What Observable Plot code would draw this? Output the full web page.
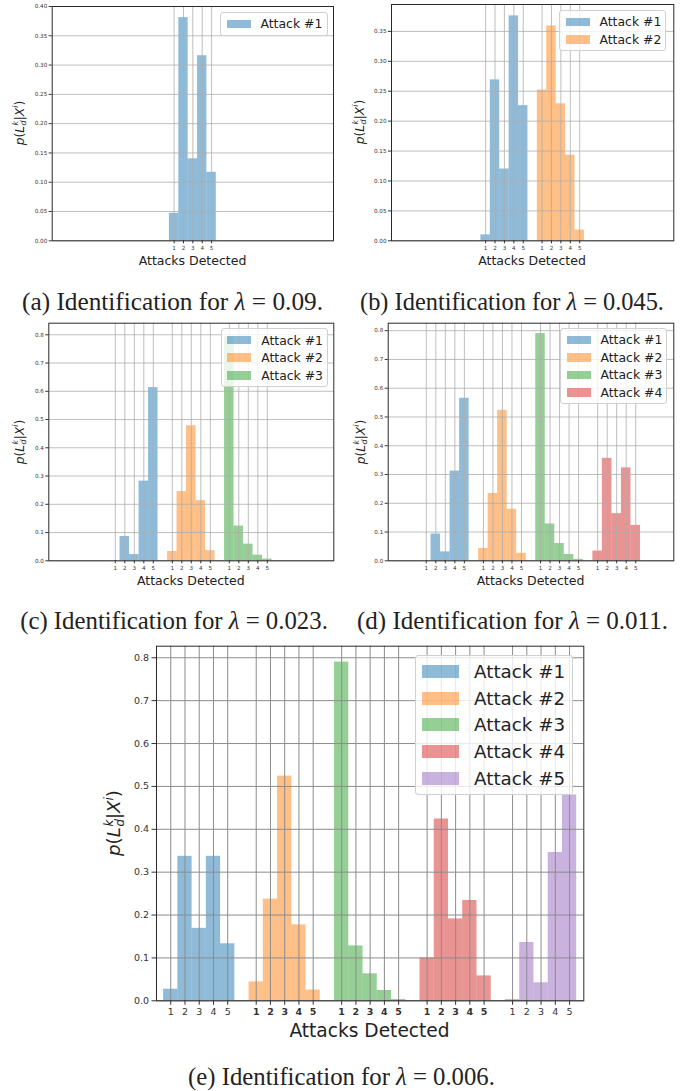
<!DOCTYPE html>
<html>
<head>
<meta charset="utf-8">
<script src="https://cdn.jsdelivr.net/npm/d3@7"></script>
<script src="https://cdn.jsdelivr.net/npm/@observablehq/plot@0.6"></script>
<style>
  body { margin: 0; background: #fff; }
  #fig { position: relative; width: 688px; height: 1091px; overflow: hidden; font-family: "DejaVu Sans", sans-serif; color: #222; }
  .panel { position: absolute; }
  .caption { position: absolute; font-family: "Liberation Serif", serif; white-space: nowrap; line-height: 1; transform: translate(-50%, -50%); color: #222; }
  .xlab { position: absolute; white-space: nowrap; line-height: 1; transform: translate(-50%, -50%); color: #222; }
  .ylab { position: absolute; white-space: nowrap; line-height: 1; transform: translate(-50%, -50%) rotate(-90deg); color: #222; }
  .ss { display: inline-flex; flex-direction: column; font-size: 0.65em; line-height: 0.95; vertical-align: middle; font-style: italic; margin-left: 0.05em; }
  .legend { position: absolute; background: rgba(255,255,255,0.8); border: 1px solid #d0d0d0; border-radius: 3px; box-sizing: border-box; }
  .lrow { display: flex; align-items: center; white-space: nowrap; }
</style>
</head>
<body>
<div id="fig"></div>
<script>
// ---------- data ----------
const tickLabels = [1, 2, 3, 4, 5];
const attackNames = ["Attack #1", "Attack #2", "Attack #3", "Attack #4", "Attack #5"];
const colors = ["#1f77b4", "#ff7f0e", "#2ca02c", "#d62728", "#9467bd"];

// (a) lambda = 0.09
const a_attack1 = [0.047, 0.381, 0.140, 0.316, 0.117];
// (b) lambda = 0.045
const b_attack1 = [0.010, 0.269, 0.120, 0.376, 0.226];
const b_attack2 = [0.252, 0.359, 0.229, 0.143, 0.018];
// (c) lambda = 0.023
const c_attack1 = [0.000, 0.086, 0.022, 0.282, 0.613];
const c_attack2 = [0.033, 0.245, 0.478, 0.213, 0.036];
const c_attack3 = [0.792, 0.123, 0.059, 0.020, 0.006];
// (d) lambda = 0.011
const d_attack1 = [0.000, 0.093, 0.031, 0.312, 0.565];
const d_attack2 = [0.043, 0.234, 0.523, 0.179, 0.026];
const d_attack3 = [0.790, 0.128, 0.060, 0.022, 0.005];
const d_attack4 = [0.034, 0.356, 0.164, 0.323, 0.123];
// (e) lambda = 0.006
const e_attack1 = [0.027, 0.337, 0.169, 0.337, 0.133];
const e_attack2 = [0.044, 0.237, 0.524, 0.177, 0.025];
const e_attack3 = [0.790, 0.128, 0.063, 0.024, 0.003];
const e_attack4 = [0.100, 0.424, 0.191, 0.234, 0.058];
const e_attack5 = [0.003, 0.136, 0.042, 0.346, 0.480];

const yTicksA = [0, 0.05, 0.10, 0.15, 0.20, 0.25, 0.30, 0.35, 0.40];
const yTicksB = [0, 0.05, 0.10, 0.15, 0.20, 0.25, 0.30, 0.35];
const yTicksC = [0, 0.1, 0.2, 0.3, 0.4, 0.5, 0.6, 0.7, 0.8];

const panelLetters = ["a", "b", "c", "d", "e"];
const lambdas = ["0.09", "0.045", "0.023", "0.011", "0.006"];
const xTitle = "Attacks Detected";

// ---------- layout ----------
const small = { tickFont: 5.6, tickSize: 3, tickPad: 2, grid: "#adadad", gridW: 0.8, labFont: 12.5,
  legFont: 12.4, rowH: 17.6, swW: 24, swH: 8.5, legPadL: 5.5, legGap: 10 };
const big = { tickFont: 9.5, tickSize: 4.5, tickPad: 3, grid: "#8c8c8c", gridW: 1, labFont: 18.6,
  legFont: 18.3, rowH: 26.8, swW: 37, swH: 13, legPadL: 5.5, legGap: 15.6 };

const panels = [
  { series: [a_attack1], ymax: 0.40, yTicks: yTicksA, yFmt: ".2f", s: small,
    left: 0, top: 0, width: 344, height: 258, mL: 51.7, mR: 11, mT: 6, mB: 17.7,
    leg: { x: 220, y: 12, w: 108 }, ylab: { x: 20, y: 123 }, xlab: { x: 192.5, y: 260.5 },
    cap: { x: 172.5, y: 301.5, w: 301 } },
  { series: [b_attack1, b_attack2], ymax: 0.395, yTicks: yTicksB, yFmt: ".2f", s: small,
    left: 344, top: 0, width: 344, height: 258, mL: 47, mR: 14.7, mT: 4, mB: 17.7,
    leg: { x: 559, y: 10, w: 106.7 }, ylab: { x: 360, y: 122 }, xlab: { x: 532, y: 260.5 },
    cap: { x: 512, y: 301.5, w: 304 } },
  { series: [c_attack1, c_attack2, c_attack3], ymax: 0.841, yTicks: yTicksC, yFmt: ".1f", s: small,
    left: 0, top: 320, width: 344, height: 258, mL: 48.3, mR: 10.7, mT: 2.7, mB: 17.7,
    leg: { x: 220.7, y: 328.3, w: 107.6 }, ylab: { x: 20, y: 441.5 }, xlab: { x: 190.8, y: 580.5 },
    cap: { x: 174, y: 621, w: 308 } },
  { series: [d_attack1, d_attack2, d_attack3, d_attack4], ymax: 0.826, yTicks: yTicksC, yFmt: ".1f", s: small,
    left: 344, top: 320, width: 344, height: 258, mL: 43.7, mR: 14.7, mT: 2.7, mB: 17.7,
    leg: { x: 560, y: 328, w: 106.7 }, ylab: { x: 360.5, y: 441.5 }, xlab: { x: 530.5, y: 580.5 },
    cap: { x: 512.5, y: 621, w: 311 } },
  { series: [e_attack1, e_attack2, e_attack3, e_attack4, e_attack5], ymax: 0.827, yTicks: yTicksC, yFmt: ".1f", s: big,
    bold: [1, 2, 3],
    left: 100, top: 640, width: 500, height: 382, mL: 56, mR: 16.7, mT: 5.7, mB: 21.7,
    leg: { x: 415, y: 655, w: 158.3 }, ylab: { x: 115, y: 823 }, xlab: { x: 369.5, y: 1030.5 },
    cap: { x: 341.5, y: 1077, w: 307 } }
];

const fig = document.getElementById("fig");

function el(tag, cls, parent) {
  const e = document.createElement(tag);
  if (cls) e.className = cls;
  (parent || fig).appendChild(e);
  return e;
}

panels.forEach((p, pi) => {
  const s = p.s;
  const n = p.series.length;
  const start = 15 - 3 * n;
  const rows = [];
  p.series.forEach((vals, k) => vals.forEach((v, j) => {
    rows.push({ k, pos: start + 6 * k + tickLabels[j], label: tickLabels[j], value: v });
  }));
  const tickPos = rows.map(d => d.pos);
  const labelOf = new Map(rows.map(d => [d.pos, d.label]));
  const boldSet = new Set(p.bold || []);
  const boldPos = rows.filter(d => boldSet.has(d.k)).map(d => d.pos);
  const normPos = rows.filter(d => !boldSet.has(d.k)).map(d => d.pos);

  const marks = [
    Plot.rect(rows, { x1: d => d.pos - 0.5, x2: d => d.pos + 0.5, y1: d => 0, y2: "value",
      fill: "k", fillOpacity: 0.5 }),
    Plot.ruleY(p.yTicks, { stroke: s.grid, strokeWidth: s.gridW }),
    Plot.ruleX(tickPos, { stroke: s.grid, strokeWidth: s.gridW }),
    Plot.axisY(p.yTicks, { tickFormat: d3.format(p.yFmt), tickSize: s.tickSize, tickPadding: s.tickPad,
      label: null, fontSize: s.tickFont }),
    Plot.axisX(normPos, { tickFormat: d => labelOf.get(d), tickSize: s.tickSize, tickPadding: s.tickPad,
      label: null, fontSize: s.tickFont })
  ];
  if (boldPos.length) {
    marks.push(Plot.axisX(boldPos, { tickFormat: d => labelOf.get(d), tickSize: s.tickSize, tickPadding: s.tickPad,
      label: null, fontSize: s.tickFont, fontWeight: "bold" }));
  }
  marks.push(Plot.frame({ stroke: "#2a2a2a", strokeWidth: 1 }));

  const chart = Plot.plot({
    width: p.width, height: p.height,
    marginLeft: p.mL, marginRight: p.mR, marginTop: p.mT, marginBottom: p.mB,
    style: { fontFamily: "DejaVu Sans", fontSize: s.tickFont + "px", color: "#333", background: "transparent", overflow: "visible" },
    x: { domain: [0, 30] },
    y: { domain: [0, p.ymax] },
    color: { type: "ordinal", domain: [0, 1, 2, 3, 4], range: colors },
    marks
  });
  const holder = el("div", "panel");
  holder.style.left = p.left + "px";
  holder.style.top = p.top + "px";
  holder.appendChild(chart);

  // x title
  const xl = el("div", "xlab");
  xl.textContent = xTitle;
  xl.style.left = p.xlab.x + "px";
  xl.style.top = p.xlab.y + "px";
  xl.style.fontSize = s.labFont + "px";

  // y title p(L_d^k | X^i)
  const yl = el("div", "ylab");
  yl.innerHTML = '<i>p</i>(<i>L</i><span class="ss"><span>k</span><span>d</span></span>|<i>X</i><sup style="font-size:0.65em"><i>i</i></sup>)';
  yl.style.left = p.ylab.x + "px";
  yl.style.top = p.ylab.y + "px";
  yl.style.fontSize = (s.labFont * 0.98) + "px";

  // legend
  const lg = el("div", "legend");
  lg.style.left = p.leg.x + "px";
  lg.style.top = p.leg.y + "px";
  lg.style.width = p.leg.w + "px";
  lg.style.padding = "2px 0 2px " + s.legPadL + "px";
  p.series.forEach((_, k) => {
    const r = el("div", "lrow", lg);
    r.style.height = s.rowH + "px";
    const sw = el("span", null, r);
    sw.style.display = "inline-block";
    sw.style.width = s.swW + "px";
    sw.style.height = s.swH + "px";
    sw.style.background = colors[k];
    sw.style.opacity = 0.5;
    sw.style.marginRight = s.legGap + "px";
    const t = el("span", null, r);
    t.textContent = attackNames[k];
    t.style.fontSize = s.legFont + "px";
    t.style.color = "#222";
  });

  // caption
  const cap = el("div", "caption");
  cap.innerHTML = "(" + panelLetters[pi] + ") Identification for <i>λ</i> = " + lambdas[pi] + ".";
  cap.style.left = p.cap.x + "px";
  cap.style.top = p.cap.y + "px";
  cap.style.fontSize = "19px";
  const w = cap.getBoundingClientRect().width;
  cap.style.fontSize = (19 * p.cap.w / w) + "px";
});
</script>
</body>
</html>
